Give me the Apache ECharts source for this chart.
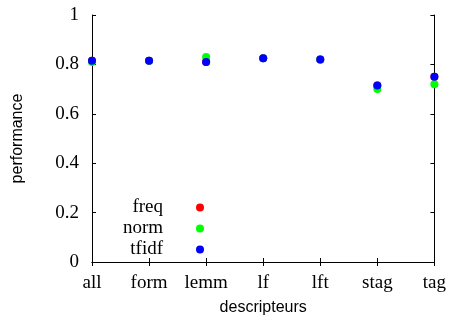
<!DOCTYPE html>
<html><head><meta charset="utf-8">
<script src="https://cdn.jsdelivr.net/npm/echarts@6/dist/echarts.min.js"></script>
<style>html,body{margin:0;padding:0;background:#fff}#c{width:449px;height:324px}</style>
</head><body><div id="c"></div>
<script>
const categories = ['all','form','lemm','lf','lft','stag','tag'];
const freq  = [0.815, 0.815, 0.81, 0.825, 0.82, 0.715, 0.75];
const norm  = [0.81, 0.815, 0.83, 0.825, 0.82, 0.70, 0.72];
const tfidf = [0.815, 0.815, 0.81, 0.825, 0.82, 0.715, 0.75];
const yTicks = [0, 0.2, 0.4, 0.6, 0.8, 1];

const serif = '"Liberation Serif", "DejaVu Serif", serif';
const sans = '"Liberation Sans", Arial, sans-serif';
const chart = echarts.init(document.getElementById('c'), null, {renderer:'canvas'});
const axisLine = {show:true, lineStyle:{color:'#000', width:1}};
function s(name, data, color){
  return {name, type:'scatter', data, symbol:'circle', symbolSize:8,
    itemStyle:{color, opacity:1}, xAxisIndex:0, yAxisIndex:0};
}
chart.setOption({
  animation:false,
  grid:{left:92, right:12.5, top:15, bottom:62},
  legend:{
    orient:'vertical', right:240, top:193, align:'right', itemGap:2,
    itemWidth:8, itemHeight:8, icon:'circle',
    itemStyle:{opacity:1},
    textStyle:{fontFamily:serif, fontSize:19, color:'#000', padding:[0,28,0,0]},
    data:['freq','norm','tfidf']
  },
  xAxis:[{
    type:'category', data:categories, boundaryGap:false,
    name:'descripteurs', nameLocation:'middle', nameGap:38,
    nameTextStyle:{fontFamily:sans, fontSize:16, color:'#000'},
    axisLine, axisTick:{show:true, inside:true, length:4, lineStyle:{color:'#000'}},
    axisLabel:{fontFamily:serif, fontSize:19, color:'#000', margin:12},
    splitLine:{show:false}
  },{
    type:'category', data:categories, boundaryGap:false, position:'top',
    axisLine, axisTick:{show:true, inside:true, length:4, lineStyle:{color:'#000'}},
    axisLabel:{show:false}, splitLine:{show:false}
  }],
  yAxis:[{
    type:'value', min:0, max:1, interval:0.2,
    name:'performance', nameLocation:'middle', nameGap:66,
    nameTextStyle:{fontFamily:sans, fontSize:16, color:'#000'},
    axisLine, axisTick:{show:true, inside:true, length:4, lineStyle:{color:'#000'}},
    axisLabel:{fontFamily:serif, fontSize:19, color:'#000', margin:13,
      formatter:v=>{const t=yTicks.find(x=>Math.abs(x-v)<1e-9); return t===undefined?'':String(t);}},
    splitLine:{show:false}
  },{
    type:'value', min:0, max:1, interval:0.2, position:'right',
    axisLine, axisTick:{show:true, inside:true, length:4, lineStyle:{color:'#000'}},
    axisLabel:{show:false}, splitLine:{show:false}
  }],
  series:[s('freq',freq,'#ff0000'), s('norm',norm,'#00ff00'), s('tfidf',tfidf,'#0000ff')]
});
</script></body></html>
